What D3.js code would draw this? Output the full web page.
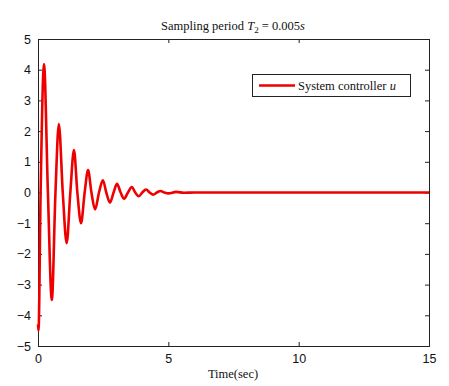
<!DOCTYPE html>
<html><head><meta charset="utf-8">
<script src="https://cdn.jsdelivr.net/npm/d3@7"></script>
<style>body{margin:0;background:#fff}svg{display:block}</style>
</head><body>
<script>
const timeSec = [0,0.02,0.1,0.23,0.38,0.53,0.67,0.8,0.95,1.1,1.24,1.38,1.51,1.65,1.79,1.92,2.05,2.19,2.34,2.49,2.62,2.76,2.9,3.03,3.17,3.3,3.45,3.6,3.73,3.87,4.0,4.15,4.28,4.42,4.56,4.7,4.85,5.0,5.3,5.6,6.0,15];
const controllerU = [-4.3,-4.5,0,4.18,0,-3.5,0,2.23,0,-1.65,0,1.38,0,-1.0,0,0.73,0,-0.55,0,0.4,0,-0.33,0,0.28,0,-0.2,0,0.18,0,-0.12,0,0.1,0,-0.07,0,0.05,0,-0.03,0.02,-0.01,0,0];
const xTicks = [0,5,10,15];
const yTicks = [-5,-4,-3,-2,-1,0,1,2,3,4,5];
const seriesName = "System controller ";

const W=449,H=386, L=38, R=429, T=39, B=346;
const svg=d3.select("body").append("svg").attr("width",W).attr("height",H);
const x=d3.scaleLinear().domain([0,15]).range([L,R]);
const y=d3.scaleLinear().domain([-5,5]).range([B,T]);

const sans="'Liberation Sans', Arial, sans-serif", serif="'Liberation Serif','DejaVu Serif',serif";

// axes
const gB=svg.append("g").attr("transform",`translate(0,${B})`).call(d3.axisBottom(x).tickValues(xTicks).tickSize(-4).tickPadding(6).tickFormat(d3.format("d")));
const gT=svg.append("g").attr("transform",`translate(0,${T})`).call(d3.axisTop(x).tickValues(xTicks).tickSize(-4).tickFormat(""));
const gL=svg.append("g").attr("transform",`translate(${L},0)`).call(d3.axisLeft(y).tickValues(yTicks).tickSize(-4).tickPadding(6).tickFormat(d3.format("d")));
const gR=svg.append("g").attr("transform",`translate(${R},0)`).call(d3.axisRight(y).tickValues(yTicks).tickSize(-4).tickFormat(""));
[gB,gT,gL,gR].forEach(g=>{
  g.select(".domain").attr("stroke","#222").attr("stroke-width",1);
  g.selectAll(".tick line").attr("stroke","#222");
  g.selectAll("text").attr("font-family",sans).attr("font-size",12.5).attr("fill","#111");
});
gB.selectAll("text").attr("dy","0.9em");
gL.selectAll("text").attr("dx","-1");

// line
const line=d3.line().x((d,i)=>x(timeSec[i])).y(d=>y(d)).curve(d3.curveMonotoneX);
svg.append("path").datum(controllerU).attr("d",line).attr("fill","none").attr("stroke","#ee0000").attr("stroke-width",2.6).attr("stroke-linejoin","round");

// title
const title=svg.append("text").attr("x",233).attr("y",30).attr("text-anchor","middle").attr("font-family",serif).attr("font-size",12.5).attr("fill","#111");
title.append("tspan").text("Sampling period ");
title.append("tspan").attr("font-style","italic").text("T");
title.append("tspan").attr("font-size",9).attr("dy",3).text("2");
title.append("tspan").attr("dy",-3).text(" = 0.005");
title.append("tspan").attr("font-style","italic").text("s");

// xlabel
svg.append("text").attr("x",233).attr("y",378).attr("text-anchor","middle").attr("font-family",serif).attr("font-size",12.5).attr("fill","#111").text("Time(sec)");

// legend
svg.append("rect").attr("x",252.5).attr("y",74.5).attr("width",158).attr("height",22).attr("fill","#fff").attr("stroke","#222");
svg.append("line").attr("x1",259).attr("x2",295).attr("y1",85.5).attr("y2",85.5).attr("stroke","#ee0000").attr("stroke-width",2.6);
const lt=svg.append("text").attr("x",298).attr("y",89.5).attr("font-family",serif).attr("font-size",12.5).attr("fill","#111");
lt.append("tspan").text(seriesName);
lt.append("tspan").attr("font-style","italic").text("u");
</script>
</body></html>
